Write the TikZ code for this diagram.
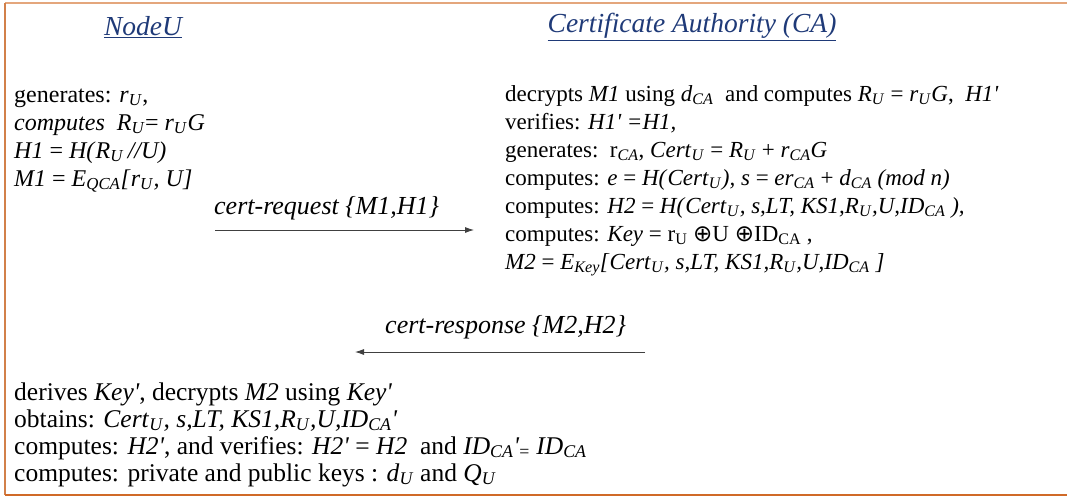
\documentclass[tikz,border=0pt]{standalone}
\usepackage{fontspec}
\setmainfont{Liberation Serif}
\newfontfamily\symfont{DejaVu Sans}
\usetikzlibrary{arrows.meta,positioning}
\definecolor{frametop}{HTML}{E4A67C}
\definecolor{frameside}{HTML}{D2804A}
\definecolor{framebot}{HTML}{D06A28}
\definecolor{hdblue}{HTML}{1F3A78}
\definecolor{msgline}{HTML}{404040}
\newcommand{\iv}[2]{\textit{#1}\textsubscript{\textit{#2}}}
\newcommand{\pr}{\textquotesingle}
\newcommand{\xo}{{\symfont ⊕}}
\tikzset{
  stepblock/.style={inner sep=0pt, align=left, anchor=base west,
                    font=\fontsize{23}{28}\selectfont},
  headtxt/.style={inner sep=0pt, text=hdblue, font=\fontsize{27.5}{30}\selectfont\itshape},
  msgtxt/.style={inner sep=0pt, anchor=base west, font=\fontsize{26}{28}\selectfont\itshape},
  msgarr/.style={-{Latex[length=9pt,width=6pt]}, line width=0.8pt, color=msgline}}

\begin{document}
\begin{tikzpicture}[x=1pt, y=-1pt]
    \useasboundingbox (0,0) rectangle (1067,498);
    % frame, open on the right
    \draw[frametop, line width=2pt] (1067,3) -- (5,3);
    \draw[frameside, line width=1.5pt] (5,3) -- (5,495);
    \draw[framebot, line width=2pt] (5,495) -- (1067,495);
    % headings
    \node[headtxt] (tU) at (143,27) {\underline{NodeU}};
    \node[headtxt] (tCA) at (692,27) {\underline{Certificate Authority (CA)}};
    % NodeU, step 1 (anchor is the baseline of the last line)
    \node[stepblock, font=\fontsize{24}{28}\selectfont] (nu) at (14,186)
      {generates: \iv{r}{U},\\
       \textit{computes}\ \ \iv{R}{U}= \iv{r}{U}\textit{G}\\
       \textit{H1} = \textit{H(}\iv{R}{U}\textit{\,//U)}\\
       \textit{M1} = \iv{E}{QCA}\textit{[}\iv{r}{U}\textit{, U]}};
    % CA, step 2
    \node[stepblock] (ca) at (505,269)
      {decrypts \textit{M1} using \iv{d}{CA}\ \ and computes \iv{R}{U} = \iv{r}{U}\textit{G},\ \ \textit{H1\pr}\\
       verifies: \textit{H1\pr\ =H1,}\\
       generates:\ \ r\textsubscript{\textit{CA}}, \iv{Cert}{U} = \iv{R}{U} + \iv{r}{CA}\textit{G}\\
       computes: \textit{e} = \textit{H(}\iv{Cert}{U}\textit{), s} = \textit{e}\iv{r}{CA} + \iv{d}{CA} \textit{(mod n)}\\
       computes: \textit{H2} = \textit{H(}\iv{Cert}{U}\textit{, s,LT, KS1,}\iv{R}{U}\textit{,U,}\iv{ID}{CA}\textit{\ ),}\\
       computes: \textit{Key} = r\textsubscript{U} \xo U \xo ID\textsubscript{CA} ,\\
       \textit{M2} = \iv{E}{Key}\textit{[}\iv{Cert}{U}\textit{, s,LT, KS1,}\iv{R}{U}\textit{,U,}\iv{ID}{CA}\textit{\ ]}};
    % NodeU, step 3
    \node[stepblock, font=\fontsize{25.5}{27}\selectfont] (fin) at (14,481)
      {derives \textit{Key\pr}, decrypts \textit{M2} using \textit{Key\pr}\\
       obtains: \iv{Cert}{U}\textit{, s,LT, KS1,}\iv{R}{U}\textit{,U,}\iv{ID}{CA}\textit{\pr}\\
       computes: \textit{H2\pr}, and verifies: \textit{H2\pr} = \textit{H2}\ \ and \iv{ID}{CA}\textit{\pr}\textsubscript{=} \iv{ID}{CA}\\
       computes: private and public keys : \iv{d}{U} and \iv{Q}{U}};
    % messages
    \coordinate (reqA) at (215,230);
    \coordinate (reqB) at (474,230);
    \coordinate (resA) at (645,352);
    \coordinate (resB) at (355,352);
    \draw[msgarr] (reqA) -- (reqB);
    \draw[msgarr] (resA) -- (resB);
    \node[msgtxt] (req) at (214,214) {cert-request \{M1,H1\}};
    \node[msgtxt] (res) at (385,333) {cert-response \{M2,H2\}};
  \end{tikzpicture}
\end{document}
